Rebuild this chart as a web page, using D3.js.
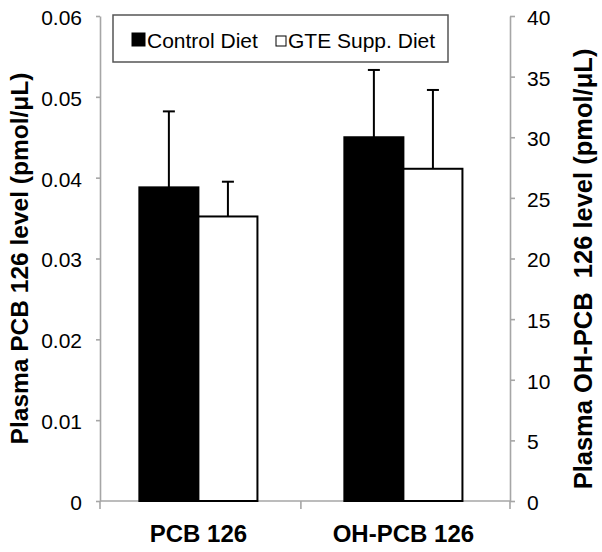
<!DOCTYPE html>
<html>
<head>
<meta charset="utf-8">
<script src="https://cdn.jsdelivr.net/npm/d3@7/dist/d3.min.js"></script>
<style>
  html, body { margin: 0; padding: 0; background: #fff; }
  svg { display: block; font-family: "Liberation Sans", Arial, sans-serif; }
</style>
</head>
<body>
<svg id="chart" width="602" height="552"></svg>
<script>
// ---- data ----
const categories = ["PCB 126", "OH-PCB 126"];
const categoryAxis = ["left", "right"];           // which y axis each category uses
const seriesNames = ["Control Diet", "GTE Supp. Diet"];
const controlValues = [0.0388, 30.0];
const gteValues = [0.0352, 27.4];
const controlErrors = [0.0094, 5.55];
const gteErrors = [0.0043, 6.5];
const leftTicks = [0, 0.01, 0.02, 0.03, 0.04, 0.05, 0.06];
const leftTickLabels = ["0", "0.01", "0.02", "0.03", "0.04", "0.05", "0.06"];
const rightTicks = [0, 5, 10, 15, 20, 25, 30, 35, 40];
const rightTickLabels = ["0", "5", "10", "15", "20", "25", "30", "35", "40"];
const leftTitle = "Plasma PCB 126 level (pmol/\u03bcL)";
const rightTitle = "Plasma OH-PCB\u00a0 126 level (pmol/\u03bcL)";

// ---- layout ----
const svg = d3.select("#chart");
const plotL = 100, plotR = 510, plotT = 16, plotB = 501;
const axisColor = "#a6a6a6";

const x = d3.scaleBand().domain(categories).range([plotL, plotR])
  .paddingInner(0.04).paddingOuter(0.02).align(0);
const groupFrac = 0.6;
const xs = d3.scaleBand().domain(seriesNames)
  .range([-x.bandwidth() * groupFrac / 2, x.bandwidth() * groupFrac / 2]);

const yLeft = d3.scaleLinear().domain([0, 0.06]).range([plotB, plotT]);
const yRight = d3.scaleLinear().domain([0, 40]).range([plotB, plotT]);
const yFor = i => categoryAxis[i] === "left" ? yLeft : yRight;

// ---- axes ----
const leftAxis = d3.axisLeft(yLeft).tickValues(leftTicks)
  .tickFormat((d, i) => leftTickLabels[i]).tickSizeInner(4).tickSizeOuter(0).tickPadding(14);
const gL = svg.append("g").attr("transform", `translate(${plotL},0)`).call(leftAxis);

const rightAxis = d3.axisRight(yRight).tickValues(rightTicks)
  .tickFormat((d, i) => rightTickLabels[i]).tickSizeInner(5).tickSizeOuter(0).tickPadding(12);
const gR = svg.append("g").attr("transform", `translate(${plotR},0)`).call(rightAxis);

[gL, gR].forEach(g => {
  g.select(".domain").attr("stroke", axisColor).attr("stroke-width", 1.6);
  g.selectAll(".tick line").attr("stroke", axisColor).attr("stroke-width", 1.6);
  g.selectAll(".tick text").attr("fill", "#000").style("font-size", "21px")
    .style("font-family", "'Liberation Sans', Arial, sans-serif").attr("dy", "0.4em");
});

// bottom axis baseline and ticks between categories
svg.append("line").attr("x1", plotL).attr("x2", plotR).attr("y1", plotB).attr("y2", plotB)
  .attr("stroke", axisColor).attr("stroke-width", 1.6);
const innerBounds = categories.slice(1).map((c, i) =>
  (x(categories[i]) + x.bandwidth() + x(c)) / 2);
const boundaries = [plotL].concat(innerBounds, [plotR]);
svg.selectAll(".xtick").data(boundaries).enter().append("line")
  .attr("x1", d => d).attr("x2", d => d).attr("y1", plotB).attr("y2", plotB + 8)
  .attr("stroke", axisColor).attr("stroke-width", 1.6);

svg.selectAll(".xlabel").data(categories).enter().append("text")
  .attr("x", d => x(d) + x.bandwidth() / 2).attr("y", 542)
  .attr("text-anchor", "middle").style("font-size", "24px").style("font-weight", "bold")
  .text(d => d);

// ---- bars ----
const seriesValues = [controlValues, gteValues];
const seriesErrors = [controlErrors, gteErrors];
const seriesFill = ["#000", "#fff"];

const barData = [];
categories.forEach((c, i) => {
  seriesNames.forEach((s, j) => {
    barData.push({ c, i, s, j, v: seriesValues[j][i], e: seriesErrors[j][i] });
  });
});

const errG = svg.append("g");
barData.forEach(d => {
  const y = yFor(d.i);
  const cx = x(d.c) + x.bandwidth() / 2 + xs(d.s) + xs.bandwidth() / 2;
  errG.append("line").attr("x1", cx).attr("x2", cx)
    .attr("y1", y(d.v)).attr("y2", y(d.v + d.e))
    .attr("stroke", "#000").attr("stroke-width", 2);
  errG.append("line").attr("x1", cx - 6).attr("x2", cx + 6)
    .attr("y1", y(d.v + d.e)).attr("y2", y(d.v + d.e))
    .attr("stroke", "#000").attr("stroke-width", 2);
});

svg.append("g").selectAll("rect").data(barData).enter().append("rect")
  .attr("x", d => x(d.c) + x.bandwidth() / 2 + xs(d.s))
  .attr("width", xs.bandwidth())
  .attr("y", d => yFor(d.i)(d.v))
  .attr("height", d => plotB - yFor(d.i)(d.v))
  .attr("fill", d => seriesFill[d.j])
  .attr("stroke", "#000").attr("stroke-width", 2);

// ---- axis titles ----
svg.append("text")
  .attr("transform", `translate(28,${(445 + 72) / 2}) rotate(-90)`)
  .attr("text-anchor", "middle").style("font-size", "24.5px").style("font-weight", "bold")
  .text(leftTitle);
svg.append("text")
  .attr("transform", `translate(592,${(490 + 48) / 2}) rotate(-90)`)
  .attr("text-anchor", "middle").style("font-size", "25.5px").style("font-weight", "bold")
  .style("white-space", "pre")
  .text(rightTitle);

// ---- legend ----
const lg = svg.append("g");
lg.append("rect").attr("x", 113).attr("y", 15).attr("width", 335).attr("height", 47)
  .attr("fill", "#fff").attr("stroke", "#555").attr("stroke-width", 1.5);
const legendX = [132, 276];
const legendSize = [13, 10];
seriesNames.forEach((s, j) => {
  const sz = legendSize[j];
  lg.append("rect").attr("x", legendX[j]).attr("y", 46 - sz).attr("width", sz).attr("height", sz)
    .attr("fill", seriesFill[j]).attr("stroke", "#000").attr("stroke-width", 1);
  lg.append("text").attr("x", legendX[j] + sz + 2).attr("y", 48)
    .style("font-size", "21px").text(s);
});
</script>
</body>
</html>
